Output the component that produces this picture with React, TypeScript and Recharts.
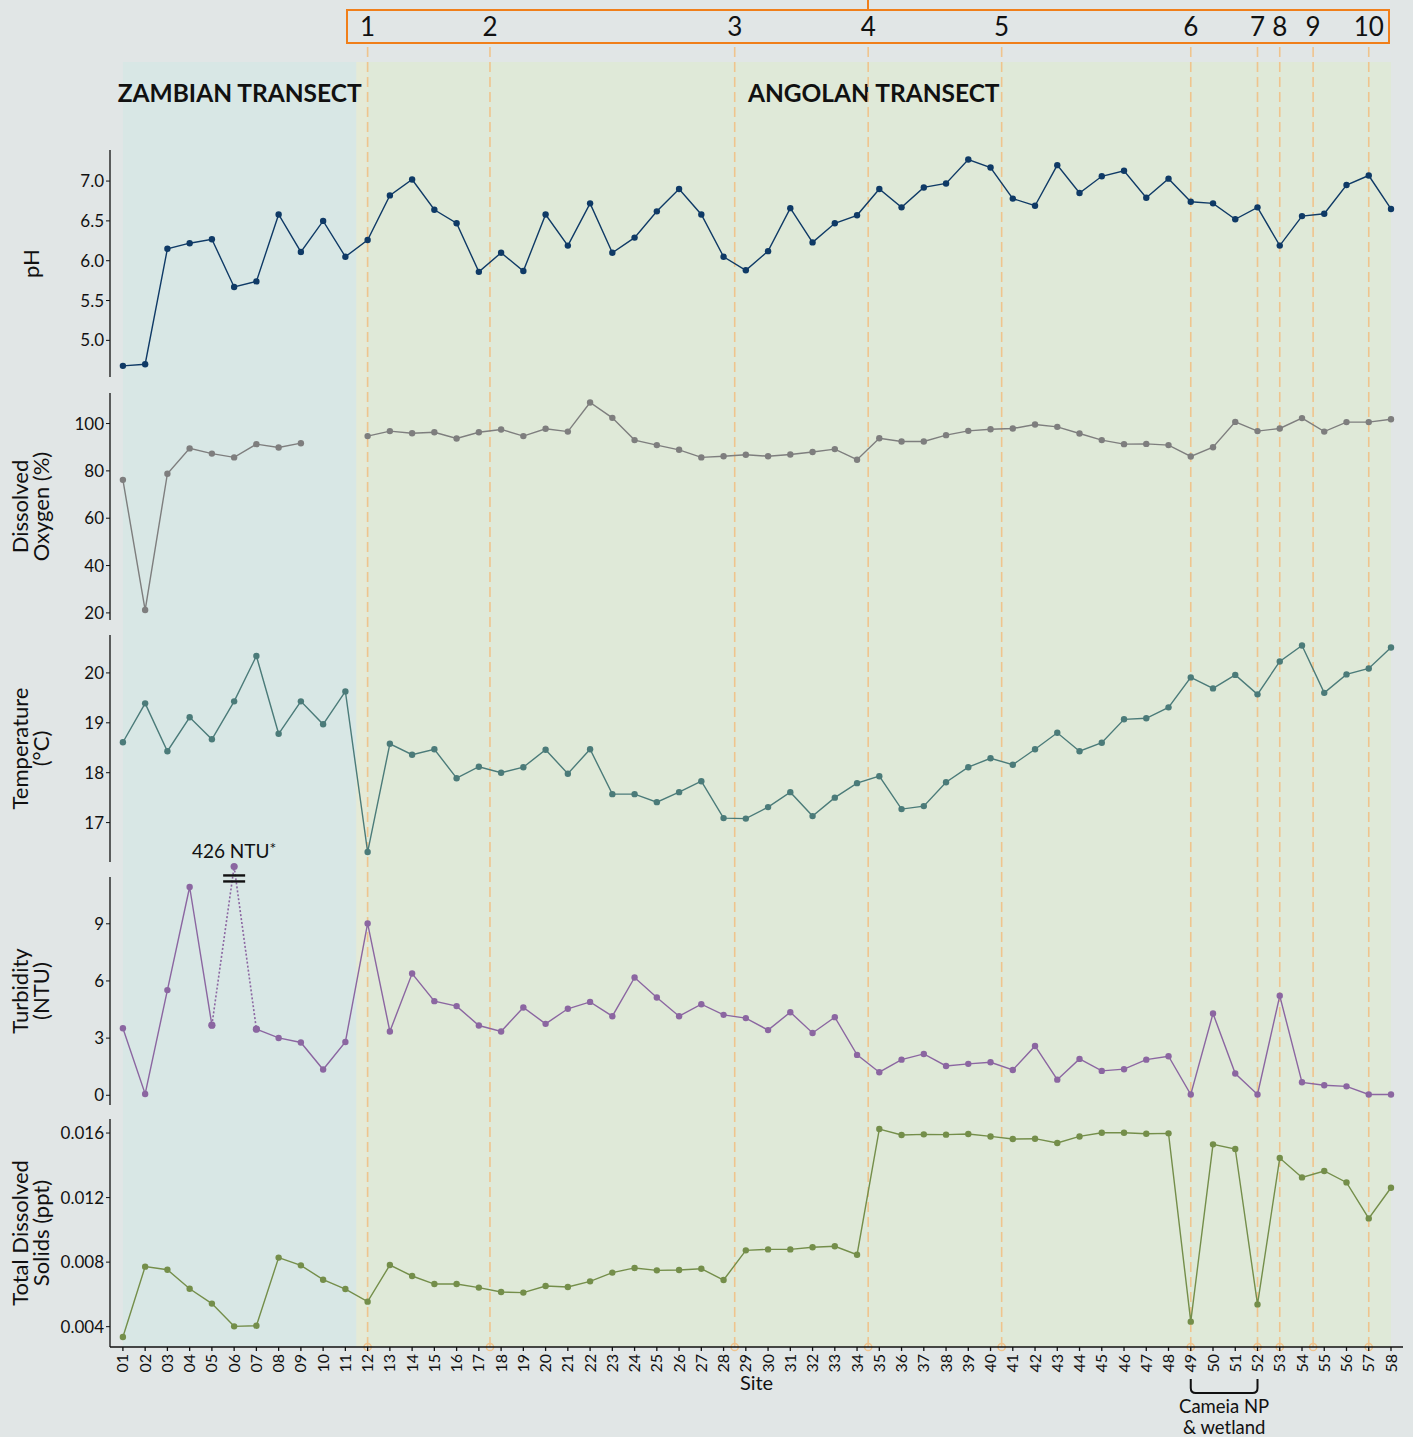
import React from 'react';
import { LineChart, Line, XAxis, YAxis, ReferenceArea, ReferenceLine, ReferenceDot } from 'recharts';

// sites along the transect
const SITES = [
  1, 2, 3, 4, 5, 6, 7, 8, 9, 10, 11, 12, 13, 14, 15, 16, 17, 18, 19, 20,
  21, 22, 23, 24, 25, 26, 27, 28, 29, 30, 31, 32, 33, 34, 35, 36, 37, 38, 39, 40,
  41, 42, 43, 44, 45, 46, 47, 48, 49, 50, 51, 52, 53, 54, 55, 56, 57, 58,
];

const PH = [
  4.68, 4.7, 6.15, 6.22, 6.27, 5.67, 5.74, 6.58, 6.11, 6.5, 6.05, 6.26, 6.82, 7.02, 6.64, 6.47, 5.86, 6.1, 5.87, 6.58,
  6.19, 6.72, 6.1, 6.29, 6.62, 6.9, 6.58, 6.05, 5.88, 6.12, 6.66, 6.23, 6.47, 6.57, 6.9, 6.67, 6.92, 6.97, 7.27, 7.17,
  6.78, 6.69, 7.2, 6.85, 7.06, 7.13, 6.79, 7.03, 6.74, 6.72, 6.52, 6.67, 6.19, 6.56, 6.59, 6.95, 7.07, 6.65,
];

const DISSOLVED_OXYGEN = [
  76.2, 21.2, 78.8, 89.5, 87.3, 85.7, 91.3, 89.9, 91.7, null, null, 94.7, 96.8, 95.9, 96.3, 93.7, 96.3, 97.5, 94.7, 97.8,
  96.6, 108.9, 102.4, 93.0, 90.9, 88.9, 85.7, 86.2, 86.8, 86.2, 86.9, 88.0, 89.2, 84.7, 93.8, 92.4, 92.4, 95.1, 96.9, 97.6,
  97.9, 99.6, 98.6, 95.8, 93.0, 91.3, 91.4, 90.9, 86.1, 90.0, 100.7, 96.8, 97.9, 102.3, 96.6, 100.6, 100.6, 101.8,
];

const TEMPERATURE = [
  18.61, 19.39, 18.43, 19.11, 18.67, 19.43, 20.34, 18.78, 19.43, 18.97, 19.63, 16.41, 18.58, 18.36, 18.47, 17.89, 18.12, 18.0, 18.11, 18.46,
  17.98, 18.47, 17.57, 17.57, 17.41, 17.61, 17.83, 17.09, 17.08, 17.31, 17.61, 17.13, 17.5, 17.79, 17.93, 17.27, 17.33, 17.81, 18.11, 18.29,
  18.16, 18.47, 18.8, 18.43, 18.6, 19.07, 19.09, 19.31, 19.91, 19.69, 19.96, 19.57, 20.23, 20.55, 19.6, 19.97, 20.09, 20.51,
];

const TURBIDITY = [
  3.52, 0.07, 5.52, 10.93, 3.68, 426, 3.47, 3.01, 2.77, 1.35, 2.8, 9.02, 3.35, 6.39, 4.94, 4.68, 3.66, 3.35, 4.61, 3.75,
  4.54, 4.9, 4.15, 6.18, 5.13, 4.15, 4.78, 4.22, 4.05, 3.42, 4.36, 3.27, 4.1, 2.12, 1.21, 1.87, 2.17, 1.54, 1.65, 1.73,
  1.33, 2.59, 0.82, 1.91, 1.28, 1.37, 1.87, 2.05, 0.04, 4.29, 1.14, 0.04, 5.22, 0.68, 0.53, 0.47, 0.04, 0.04,
];

const TDS = [
  0.00336, 0.00772, 0.00753, 0.00635, 0.00543, 0.00402, 0.00406, 0.00828, 0.0078, 0.00691, 0.00633, 0.00555, 0.00782, 0.00714, 0.00664, 0.00664, 0.00642, 0.00615, 0.00611, 0.00652,
  0.00646, 0.00681, 0.00735, 0.00764, 0.00749, 0.00751, 0.00759, 0.00689, 0.00873, 0.00879, 0.00879, 0.00892, 0.00898, 0.00846, 0.01625, 0.01588, 0.01592, 0.0159, 0.01594, 0.01579,
  0.01563, 0.01565, 0.01538, 0.01579, 0.01602, 0.01602, 0.01596, 0.01598, 0.00431, 0.0153, 0.01501, 0.00538, 0.01445, 0.01325, 0.01365, 0.01294, 0.01071, 0.01261,
];

const PH_TICKS = [5.0, 5.5, 6.0, 6.5, 7.0];
const DO_TICKS = [20, 40, 60, 80, 100];
const TEMP_TICKS = [17, 18, 19, 20];
const TURB_TICKS = [0, 3, 6, 9];
const TDS_TICKS = [0.004, 0.008, 0.012, 0.016];

// turbidity outlier at site 06 is drawn above an axis break
const TURB_OUTLIER_SITE = 6;
const TURB_OUTLIER_SHOWN_AT = 12.0;
const TURB_BREAK_AT = 11.38;
const TURB_AXIS_TOP = 11.45;

const TRANSECTS = [
  { name: 'ZAMBIAN TRANSECT', from: 1, to: 11.5 },
  { name: 'ANGOLAN TRANSECT', from: 11.5, to: 58 },
];
const TRANSECT_OVERLAP = [11.5, 12];

const MARKERS = [12, 17.5, 28.5, 34.5, 40.5, 49, 52, 53, 54.5, 57];
const MARKER_LABELS = ['1', '2', '3', '4', '5', '6', '7', '8', '9', '10'];

const CAMEIA = { from: 49, to: 52, lines: ['Cameia NP', '& wetland'] };

const W = 1413;
const H = 1437;
const PLOT_LEFT = 110;
const PLOT_RIGHT = 1403;
const X_DOMAIN: [number, number] = [0.42, 58.54];
const PAD = 24;
const FONT = 'Lato, "Open Sans", sans-serif';
const INK = '#111111';
const PAGE_BG = '#e1e6e6';
const BAND_FILLS = ['#d8e7e5', '#dfe9d8'];
const OVERLAP_FILL = '#e5ead6';
const MARKER_COLOR = '#efc48d';
const FRAME_COLOR = '#f07f1a';

const rows = SITES.map((site, i) => ({
  site,
  ph: PH[i],
  oxygen: DISSOLVED_OXYGEN[i],
  temp: TEMPERATURE[i],
  turb: site === TURB_OUTLIER_SITE ? null : TURBIDITY[i],
  turbBreak:
    Math.abs(site - TURB_OUTLIER_SITE) <= 1
      ? site === TURB_OUTLIER_SITE
        ? TURB_OUTLIER_SHOWN_AT
        : TURBIDITY[i]
      : null,
  tds: TDS[i],
}));

const PANELS = [
  { key: 'ph', top: 150, bottom: 377, domain: [4.54, 7.39], ticks: PH_TICKS, digits: 1, color: '#0f3a66', title: ['pH'] },
  { key: 'oxygen', top: 393, bottom: 620, domain: [17, 112.9], ticks: DO_TICKS, digits: 0, color: '#7e7e7e', title: ['Dissolved', 'Oxygen (%)'] },
  { key: 'temp', top: 635, bottom: 862, domain: [16.21, 20.76], ticks: TEMP_TICKS, digits: 0, color: '#4b7b79', title: ['Temperature', '(°C)'] },
  { key: 'turb', top: 859, bottom: 1105, domain: [-0.51, 12.4], ticks: TURB_TICKS, digits: 0, color: '#8b66a1', title: ['Turbidity', '(NTU)'] },
  { key: 'tds', top: 1119, bottom: 1347, domain: [0.00274, 0.01687], ticks: TDS_TICKS, digits: 3, color: '#748e4a', title: ['Total Dissolved', 'Solids (ppt)'] },
];

const makeTitle = (lines: string[], domain: number[], visibleTop?: number) => (props: any) => {
  const vb = props.viewBox;
  let cy = vb.y + vb.height / 2;
  if (visibleTop !== undefined) {
    const mid = (visibleTop + domain[0]) / 2;
    cy = vb.y + (vb.height * (domain[1] - mid)) / (domain[1] - domain[0]);
  }
  const x0 = lines.length === 1 ? 39 : 28;
  return (
    <text transform={`rotate(-90 ${x0} ${cy})`} x={x0} y={cy} textAnchor="middle" fontSize={22} fill={INK} fontFamily={FONT}>
      {lines.map((l, i) => (
        <tspan key={i} x={x0} dy={i === 0 ? 0 : 21}>
          {l}
        </tspan>
      ))}
    </text>
  );
};

const SiteTick = (props: any) => {
  const { x, y, payload } = props;
  return (
    <text x={x} y={y} transform={`rotate(-90 ${x} ${y})`} textAnchor="end" dy="0.35em" fontSize={16} fill={INK} fontFamily={FONT}>
      {String(payload.value).padStart(2, '0')}
    </text>
  );
};

const SiteLabel = (props: any) => {
  const vb = props.viewBox;
  return (
    <text x={vb.x + vb.width / 2} y={vb.y + 43} textAnchor="middle" fontSize={20} fill={INK} fontFamily={FONT}>
      Site
    </text>
  );
};

function Panel({ p, last }: { p: any; last: boolean }) {
  const xAxisH = last ? 56 : 0;
  const height = p.bottom - p.top + PAD * 2 + xAxisH;
  const isTurb = p.key === 'turb';
  return (
    <div style={{ position: 'absolute', left: 0, top: p.top - PAD }}>
      <LineChart width={W} height={height} data={rows} margin={{ top: PAD, right: W - PLOT_RIGHT, bottom: PAD, left: 0 }}>
        <XAxis
          type="number"
          dataKey="site"
          domain={X_DOMAIN}
          allowDataOverflow
          hide={!last}
          ticks={SITES}
          interval={0}
          tick={SiteTick}
          tickSize={4}
          tickMargin={3}
          height={xAxisH}
          stroke={INK}
          strokeWidth={1.3}
          label={{ content: SiteLabel }}
        />
        <YAxis
          type="number"
          domain={p.domain}
          ticks={p.ticks}
          width={PLOT_LEFT}
          axisLine={isTurb ? false : { stroke: INK, strokeWidth: 1.3 }}
          tickLine={{ stroke: INK }}
          tickSize={4}
          tickMargin={2}
          tick={{ fontSize: 17, fill: INK, fontFamily: FONT }}
          tickFormatter={(v: number) => v.toFixed(p.digits)}
          label={{ content: makeTitle(p.title, p.domain, isTurb ? TURB_AXIS_TOP : undefined) }}
        />
        {isTurb && (
          <ReferenceLine
            segment={[
              { x: X_DOMAIN[0], y: p.domain[0] },
              { x: X_DOMAIN[0], y: TURB_AXIS_TOP },
            ]}
            stroke={INK}
            strokeWidth={1.3}
            ifOverflow="visible"
          />
        )}
        {isTurb && (
          <ReferenceDot
            x={TURB_OUTLIER_SITE}
            y={TURB_BREAK_AT}
            ifOverflow="visible"
            shape={(s: any) => (
              <g stroke={INK} strokeWidth={2.4}>
                <line x1={s.cx - 11} x2={s.cx + 11} y1={s.cy - 3} y2={s.cy - 3} />
                <line x1={s.cx - 11} x2={s.cx + 11} y1={s.cy + 3} y2={s.cy + 3} />
              </g>
            )}
          />
        )}
        {isTurb && (
          <ReferenceDot
            x={TURB_OUTLIER_SITE}
            y={TURB_OUTLIER_SHOWN_AT}
            ifOverflow="visible"
            shape={(s: any) => (
              <text x={s.cx} y={s.cy - 9} textAnchor="middle" fontSize={19} fill={INK} fontFamily={FONT}>
                {TURBIDITY[TURB_OUTLIER_SITE - 1]} NTU
                <tspan fontSize={16} dy={-4}>*</tspan>
              </text>
            )}
          />
        )}
        {isTurb && (
          <Line
            dataKey="turbBreak"
            stroke={p.color}
            strokeWidth={1.6}
            strokeDasharray="2 2"
            dot={{ r: 3.6, fill: p.color, stroke: 'none' }}
            isAnimationActive={false}
          />
        )}
        <Line
          dataKey={p.key}
          stroke={p.color}
          strokeWidth={1.4}
          dot={{ r: 3.2, fill: p.color, stroke: 'none' }}
          activeDot={false}
          isAnimationActive={false}
        />
      </LineChart>
    </div>
  );
}

const BandLabel = (name: string) => (props: any) => {
  const vb = props.viewBox;
  return (
    <text x={vb.x + vb.width / 2} y={vb.y + 40} textAnchor="middle" fontSize={24.5} fontWeight={700} fill={INK} fontFamily={FONT}>
      {name}
    </text>
  );
};

const MarkerLabel = (text: string) => (props: any) => {
  const vb = props.viewBox;
  return (
    <g>
      <text x={vb.x} y={vb.y - 9} textAnchor="middle" fontSize={26} fill={INK} fontFamily={FONT}>
        {text}
      </text>
      <circle cx={vb.x} cy={vb.y + vb.height} r={3.6} fill="none" stroke={MARKER_COLOR} strokeWidth={1.5} />
    </g>
  );
};

const BracketShape = (props: any) => {
  const { x, y, width, height } = props;
  const r = 5;
  const d = `M${x},${y} L${x},${y + height - r} Q${x},${y + height} ${x + r},${y + height} L${x + width - r},${y + height} Q${x + width},${y + height} ${x + width},${y + height - r} L${x + width},${y}`;
  return <path d={d} fill="none" stroke={INK} strokeWidth={2} />;
};

const BracketLabel = (props: any) => {
  const vb = props.viewBox;
  const cx = vb.x + vb.width / 2;
  return (
    <g>
      {CAMEIA.lines.map((l, i) => (
        <text key={i} x={cx} y={vb.y + vb.height + 20 + i * 21} textAnchor="middle" fontSize={18.5} fill={INK} fontFamily={FONT}>
          {l}
        </text>
      ))}
    </g>
  );
};

export default function App() {
  return (
    <div style={{ position: 'absolute', left: 0, top: 0, width: W, height: H, background: PAGE_BG, overflow: 'hidden' }}>
      {/* transect bands, then their titles on top */}
      <div style={{ position: 'absolute', left: 0, top: 0 }}>
        <LineChart width={W} height={H} data={rows} margin={{ top: 62, right: W - PLOT_RIGHT, bottom: H - 1347, left: PLOT_LEFT }}>
          <XAxis type="number" dataKey="site" domain={X_DOMAIN} allowDataOverflow hide />
          <YAxis type="number" domain={[0, 1]} allowDataOverflow hide />
          {TRANSECTS.map((t, i) => (
            <ReferenceArea key={t.name} x1={t.from} x2={t.to} fill={BAND_FILLS[i]} fillOpacity={1} ifOverflow="visible" />
          ))}
          <ReferenceArea x1={TRANSECT_OVERLAP[0]} x2={TRANSECT_OVERLAP[1]} fill={OVERLAP_FILL} fillOpacity={1} ifOverflow="visible" />
          {TRANSECTS.map((t) => (
            <ReferenceArea key={`${t.name}-label`} x1={t.from} x2={t.to} fill="none" fillOpacity={0} ifOverflow="visible" label={{ content: BandLabel(t.name) }} />
          ))}
        </LineChart>
      </div>

      {/* numbered frame */}
      <div style={{ position: 'absolute', left: 346, top: 9, width: 1044, height: 35, border: `2.5px solid ${FRAME_COLOR}`, boxSizing: 'border-box' }} />
      <div style={{ position: 'absolute', left: 867, top: 0, width: 2, height: 10, background: FRAME_COLOR }} />

      {/* dashed markers */}
      <div style={{ position: 'absolute', left: 0, top: 0 }}>
        <LineChart width={W} height={H} data={rows} margin={{ top: 45, right: W - PLOT_RIGHT, bottom: H - 1347, left: PLOT_LEFT }}>
          <XAxis type="number" dataKey="site" domain={X_DOMAIN} allowDataOverflow hide />
          <YAxis type="number" domain={[0, 1]} allowDataOverflow hide />
          {MARKERS.map((m, i) => (
            <ReferenceLine key={m} x={m} stroke={MARKER_COLOR} strokeWidth={1.6} strokeDasharray="10 5" ifOverflow="visible" label={{ content: MarkerLabel(MARKER_LABELS[i]) }} />
          ))}
        </LineChart>
      </div>

      {PANELS.map((p, i) => (
        <Panel key={p.key} p={p} last={i === PANELS.length - 1} />
      ))}

      {/* Cameia NP bracket */}
      <div style={{ position: 'absolute', left: 0, top: 1374 }}>
        <LineChart width={W} height={63} data={rows} margin={{ top: 5, right: W - PLOT_RIGHT, bottom: 44, left: PLOT_LEFT }}>
          <XAxis type="number" dataKey="site" domain={X_DOMAIN} allowDataOverflow hide />
          <YAxis type="number" domain={[0, 1]} allowDataOverflow hide />
          <ReferenceArea x1={CAMEIA.from} x2={CAMEIA.to} ifOverflow="visible" shape={BracketShape} label={{ content: BracketLabel }} />
        </LineChart>
      </div>
    </div>
  );
}
